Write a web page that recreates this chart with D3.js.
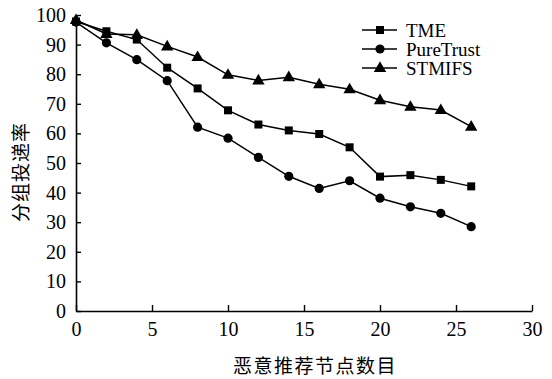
<!DOCTYPE html>
<html>
<head>
<meta charset="utf-8">
<script src="https://cdn.jsdelivr.net/npm/d3@7"></script>
<style>
  body { margin: 0; background: #fff; }
  svg { display: block; }
</style>
</head>
<body>
<div id="chart"></div>
<script>
// x positions: number of malicious recommender nodes
const nodes = [0, 2, 4, 6, 8, 10, 12, 14, 16, 18, 20, 22, 24, 26];

const tme = [97.8, 94.5, 91.7, 82.2, 75.2, 67.8, 63.0, 61.0, 59.8, 55.3, 45.4, 45.9, 44.3, 42.1];
const pureTrust = [97.6, 90.6, 84.9, 77.8, 62.1, 58.4, 51.9, 45.5, 41.4, 44.0, 38.1, 35.2, 33.0, 28.5];
const stmifs = [98.3, 93.6, 93.3, 89.4, 85.8, 79.8, 77.9, 79.0, 76.6, 74.9, 71.2, 69.0, 67.9, 62.3];

const seriesNames = ['TME', 'PureTrust', 'STMIFS'];
const seriesShapes = ['square', 'circle', 'triangle'];

const xTicks = [0, 5, 10, 15, 20, 25, 30];
const yTicks = [0, 10, 20, 30, 40, 50, 60, 70, 80, 90, 100];

const xTitle = '恶意推荐节点数目';
const yTitle = '分组投递率';

const serif = "'Liberation Serif', 'Times New Roman', serif";
const cjk = "'Noto Sans CJK SC', sans-serif";

const width = 552, height = 379;
const marginLeft = 76, marginTop = 15;

const svg = d3.select('#chart').append('svg')
  .attr('width', width)
  .attr('height', height);

const x = d3.scaleLinear().domain([0, 30]).range([marginLeft, 532]);
const y = d3.scaleLinear().domain([0, 100]).range([311, marginTop]);

// axes
const xAxis = svg.append('g').attr('transform', 'translate(0,' + y(0) + ')')
  .call(d3.axisBottom(x).tickValues(xTicks).tickSizeInner(-6).tickSizeOuter(0).tickPadding(11));
const yAxis = svg.append('g').attr('transform', 'translate(' + x(0) + ',0)')
  .call(d3.axisLeft(y).tickValues(yTicks).tickSizeInner(-5).tickSizeOuter(0).tickPadding(10));

[xAxis, yAxis].forEach(g => {
  g.attr('font-family', serif).attr('font-size', 20);
  g.select('.domain').attr('stroke', '#000').attr('stroke-width', 1.6);
  g.selectAll('.tick line').attr('stroke', '#000').attr('stroke-width', 1.4);
  g.selectAll('.tick text').attr('fill', '#000');
});
xAxis.selectAll('.tick text').attr('dy', '0.71em');

// titles
svg.append('text')
  .attr('font-family', cjk)
  .attr('font-size', 19)
  .attr('transform', 'translate(28,172) rotate(-90)')
  .attr('text-anchor', 'middle')
  .style('letter-spacing', '1px')
  .text(yTitle);

svg.append('text')
  .attr('font-family', cjk)
  .attr('font-size', 19)
  .attr('x', 315)
  .attr('y', 373)
  .attr('text-anchor', 'middle')
  .style('letter-spacing', '1.5px')
  .text(xTitle);

function drawMarker(g, shape, cx, cy) {
  if (shape === 'square') {
    g.append('rect').attr('x', cx - 4).attr('y', cy - 4).attr('width', 8).attr('height', 8).attr('fill', '#000');
  } else if (shape === 'circle') {
    g.append('circle').attr('cx', cx).attr('cy', cy).attr('r', 4.6).attr('fill', '#000');
  } else {
    g.append('path')
      .attr('d', d3.symbol(d3.symbolTriangle, 66)())
      .attr('transform', 'translate(' + cx + ',' + (cy + 0.5) + ')')
      .attr('fill', '#000');
  }
}

const allSeries = [tme, pureTrust, stmifs];
const line = d3.line().x((d, i) => x(nodes[i])).y(d => y(d));

allSeries.forEach((vals, si) => {
  const g = svg.append('g');
  g.append('path')
    .datum(vals)
    .attr('fill', 'none')
    .attr('stroke', '#000')
    .attr('stroke-width', 1.5)
    .attr('d', line);
  vals.forEach((v, i) => drawMarker(g, seriesShapes[si], x(nodes[i]), y(v)));
});

// legend
const legend = svg.append('g');
seriesNames.forEach((name, i) => {
  const ly = 30 + i * 19;
  legend.append('line')
    .attr('x1', 362).attr('x2', 397)
    .attr('y1', ly).attr('y2', ly)
    .attr('stroke', '#000').attr('stroke-width', 1.5);
  drawMarker(legend, seriesShapes[i], 380, ly);
  legend.append('text')
    .attr('font-family', serif)
    .attr('font-size', 19)
    .attr('x', 406)
    .attr('y', ly)
    .attr('dy', '0.35em')
    .text(name);
});
</script>
</body>
</html>
